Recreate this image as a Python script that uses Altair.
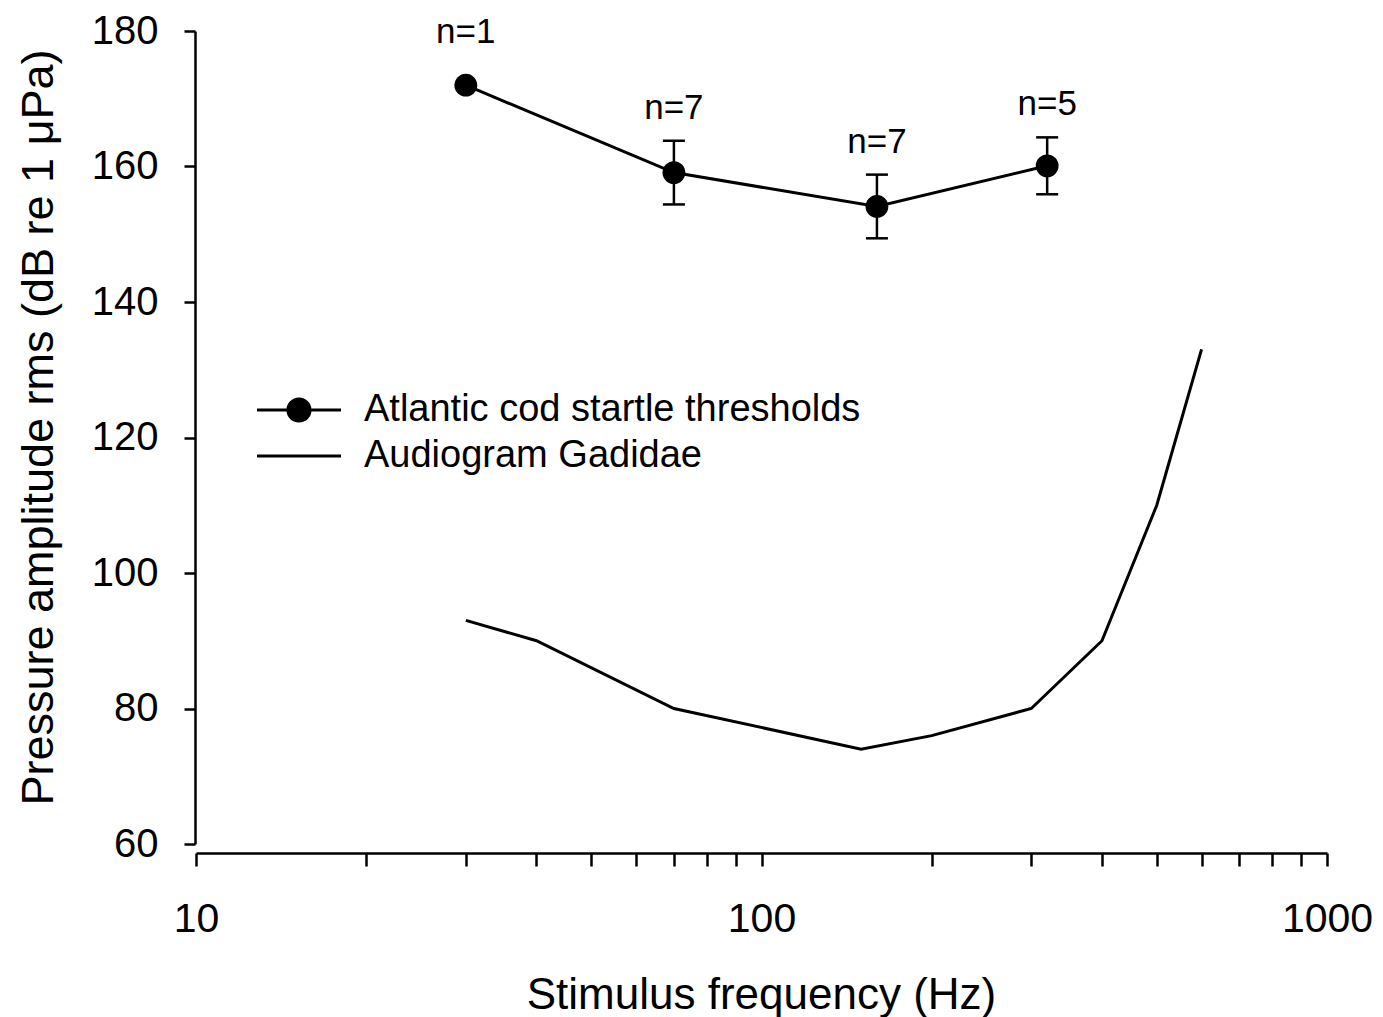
import altair as alt
import pandas as pd

# ---- data ----
cod_freq = [30, 70, 160, 320]
cod_level = [172, 159.1, 154.1, 160.1]
cod_sd = [0, 4.7, 4.7, 4.2]
cod_n = ["n=1", "n=7", "n=7", "n=5"]

aud_freq = [30, 40, 70, 150, 200, 300, 400, 500, 600]
aud_level = [93, 90, 80, 74, 76, 80, 90, 110, 133]

series_names = ["Atlantic cod startle thresholds", "Audiogram Gadidae"]
x_tick_values = [10, 20, 30, 40, 50, 60, 70, 80, 90, 100,
                 200, 300, 400, 500, 600, 700, 800, 900, 1000]
y_tick_values = [60, 80, 100, 120, 140, 160, 180]

FONT = "Liberation Sans"

cod = pd.DataFrame({"freq": cod_freq, "level": cod_level, "sd": cod_sd,
                    "n": cod_n, "series": series_names[0]})
aud = pd.DataFrame({"freq": aud_freq, "level": aud_level, "series": series_names[1]})

x_enc = alt.X(
    "freq:Q",
    scale=alt.Scale(type="log", domain=[10, 1000], nice=False),
    axis=alt.Axis(
        values=x_tick_values,
        labelExpr="(datum.value == 10 || datum.value == 100 || datum.value == 1000) ? format(datum.value, 'd') : ''",
        title="Stimulus frequency (Hz)",
        offset=9, tickSize=13, tickWidth=2.5, domainWidth=2.5,
        domainColor="black", tickColor="black", labelFlush=False,
        labelFontSize=41, labelFont=FONT, labelColor="black", labelPadding=33,
        titleFontSize=44, titleFont=FONT, titleFontWeight="normal", titleColor="black",
        titleX=565, titleY=142, titleBaseline="middle", grid=False,
    ),
)
y_scale = alt.Scale(domain=[60, 180], nice=False, zero=False)
y_axis = alt.Axis(
    values=y_tick_values, format="d",
    title="Pressure amplitude rms (dB re 1 μPa)",
    offset=1, tickSize=11, tickWidth=2.5, domainWidth=2.5,
    domainColor="black", tickColor="black", labelFlush=False,
    labelFontSize=40, labelFont=FONT, labelColor="black", labelPadding=26,
    titleFontSize=45, titleFont=FONT, titleFontWeight="normal", titleColor="black",
    titleX=-157, titleY=396, titleBaseline="middle", titleAngle=270, grid=False,
)

aud_line = alt.Chart(aud).mark_line(color="black", strokeWidth=3).encode(
    x=x_enc, y=alt.Y("level:Q", scale=y_scale, axis=y_axis)
)

cod_base = alt.Chart(cod).transform_calculate(
    lower="datum.level - datum.sd",
    upper="datum.level + datum.sd",
    label_y="datum.sd > 0 ? datum.level + datum.sd : datum.level + 3.0",
)

cod_line = cod_base.mark_line(color="black", strokeWidth=3).encode(
    x="freq:Q", y="level:Q"
)
err_rule = cod_base.transform_filter("datum.sd > 0").mark_rule(
    color="black", strokeWidth=2.5
).encode(x="freq:Q", y="lower:Q", y2="upper:Q")
cap_low = cod_base.transform_filter("datum.sd > 0").mark_tick(
    orient="horizontal", size=22, thickness=2.5, color="black", opacity=1
).encode(x="freq:Q", y="lower:Q")
cap_high = cod_base.transform_filter("datum.sd > 0").mark_tick(
    orient="horizontal", size=22, thickness=2.5, color="black", opacity=1
).encode(x="freq:Q", y="upper:Q")
points = cod_base.mark_circle(size=520, color="black", opacity=1).encode(
    x="freq:Q", y="level:Q"
)
labels = cod_base.mark_text(
    fontSize=35, font=FONT, color="black", baseline="middle", align="center", dy=-33
).encode(x="freq:Q", y="label_y:Q", text="n:N")

# legend symbols drawn as filled shapes (unit = sqrt(size)/2 px):
# a thin bar with a dot, and a thin bar alone
path_cod = ("M-2,-0.07L2,-0.07L2,0.07L-2,0.07Z"
            "M-0.6,0A0.6,0.6,0,1,1,0.6,0A0.6,0.6,0,1,1,-0.6,0Z")
path_aud = "M-2,-0.07L2,-0.07L2,0.07L-2,0.07Z"

legend_driver = alt.Chart(pd.concat([cod, aud])).transform_filter(
    "datum.freq > 100000"
).mark_point(filled=True, color="black", opacity=1).encode(
    x="freq:Q", y="level:Q",
    shape=alt.Shape(
        "series:N",
        scale=alt.Scale(domain=series_names, range=[path_cod, path_aud]),
        legend=alt.Legend(
            title=None, orient="none", legendX=82, legendY=358,
            symbolSize=1764, symbolFillColor="black", symbolOpacity=1,
            symbolStrokeWidth=0,
            labelFontSize=38, labelFont=FONT, labelColor="black",
            labelOffset=44, rowPadding=6, padding=0, labelLimit=0,
        ),
    ),
)

chart = alt.layer(
    aud_line, cod_line, err_rule, cap_low, cap_high, points, labels, legend_driver
).properties(
    width=1131, height=813,
    autosize=alt.AutoSizeParams(type="none"),
    padding={"left": 188, "top": 23, "right": 48, "bottom": 175},
    background="white",
).configure_view(stroke=None)

chart.save("out.html", embed_options={"renderer": "svg", "actions": False})
